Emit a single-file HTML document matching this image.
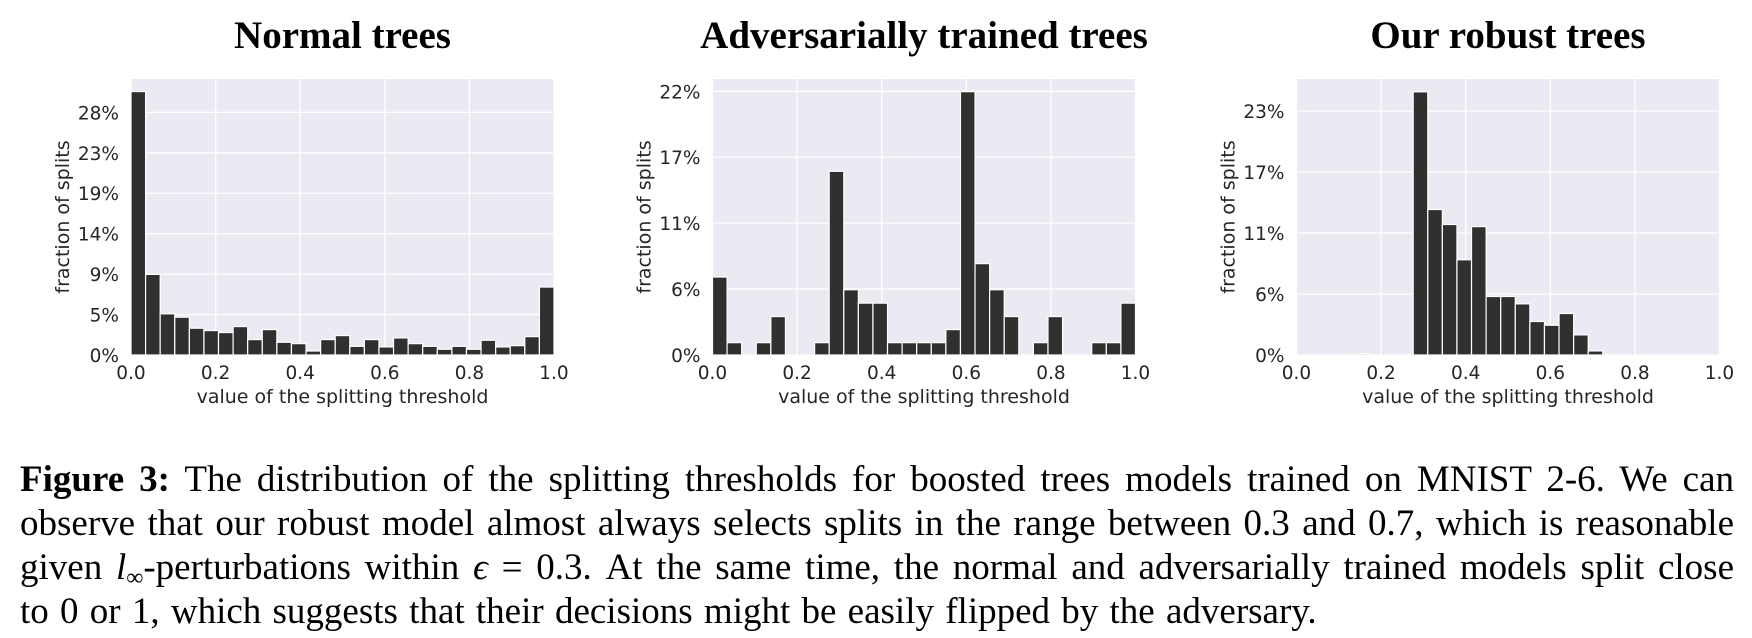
<!DOCTYPE html>
<html><head><meta charset="utf-8">
<style>
html,body{margin:0;padding:0;background:#fff;}
body{width:1752px;height:638px;position:relative;overflow:hidden;}
svg{position:absolute;left:0;top:0;}
#caption{position:absolute;left:20px;top:458px;width:1714px;font-family:"Liberation Serif",serif;font-size:37px;line-height:44px;color:#000;}
#caption div{text-align:justify;text-align-last:justify;white-space:nowrap;height:44px;}
#caption div.last{text-align-last:left;word-spacing:2px;}
#caption sub{font-size:24px;line-height:0;vertical-align:-6px;}
</style></head>
<body>
<svg id="fig" width="1752" height="450"></svg>
<div id="caption">
<div><b>Figure 3:</b> The distribution of the splitting thresholds for boosted trees models trained on MNIST 2-6. We can</div>
<div>observe that our robust model almost always selects splits in the range between 0.3 and 0.7, which is reasonable</div>
<div>given <i>l</i><sub>∞</sub>-perturbations within <i>ϵ</i> = 0.3. At the same time, the normal and adversarially trained models split close</div>
<div class="last">to 0 or 1, which suggests that their decisions might be easily flipped by the adversary.</div>
</div>
<script>
const titles = ["Normal trees","Adversarially trained trees","Our robust trees"];
const normalValues = [30.4,9.3,4.75,4.36,3.09,2.82,2.59,3.28,1.78,2.93,1.47,1.31,0.46,1.78,2.24,1.0,1.78,0.93,1.97,1.31,1.0,0.66,1.0,0.66,1.7,0.93,1.08,2.12,7.84];
const advValues = [6.57,1.04,0,1.04,3.24,0,0,1.04,15.48,5.5,4.37,4.37,1.04,1.04,1.04,1.04,2.14,22.19,7.7,5.5,3.24,0,1.04,3.24,0,0,1.04,1.04,4.37];
const robustValues = [0,0,0,0,0.12,0,0,0,24.6,13.6,12.2,8.9,12.0,5.47,5.47,4.78,3.13,2.78,3.88,1.88,0.38,0,0,0,0,0,0,0,0];
const normalTicks = [0,4.667,9.333,14,18.667,23.333,28];
const normalTickLabels = ["0%","5%","9%","14%","19%","23%","28%"];
const advTicks = [0,5.556,11.111,16.667,22.222];
const advTickLabels = ["0%","6%","11%","17%","22%"];
const robustTicks = [0,5.7,11.4,17.1,22.8];
const robustTickLabels = ["0%","6%","11%","17%","23%"];
const yMaxes = [31.85,23.26,25.8];
const xTicks = [0,0.2,0.4,0.6,0.8,1.0];
const xTickLabels = ["0.0","0.2","0.4","0.6","0.8","1.0"];

const NS="http://www.w3.org/2000/svg";
const svg=document.getElementById('fig');
function mk(tag,attrs,parent){const e=document.createElementNS(NS,tag);for(const k in attrs)e.setAttribute(k,attrs[k]);(parent||svg).appendChild(e);return e;}
const panels=[
 {left:131,vals:normalValues,ticks:normalTicks,labels:normalTickLabels,name:'normal'},
 {left:712.5,vals:advValues,ticks:advTicks,labels:advTickLabels,name:'adversarial'},
 {left:1296.5,vals:robustValues,ticks:robustTicks,labels:robustTickLabels,name:'robust'}
];
const PW=423, PTOP=79, PBOT=355, PH=PBOT-PTOP;
panels.forEach((p,pi)=>{
  const g=mk('g',{});
  
  
  const ymax=yMaxes[pi];
  const xs=v=>p.left+v*PW;
  const ys=v=>PBOT-v/ymax*PH;
  const bg=mk('rect',{x:p.left,y:PTOP,width:PW,height:PH,fill:'#eaeaf2'},g);
  
  
  xTicks.forEach((t,i)=>{
    const l=mk('line',{x1:xs(t),x2:xs(t),y1:PTOP,y2:PBOT,stroke:'#fff','stroke-width':1.3},g);
    
    
    const tx=mk('text',{x:xs(t),y:PBOT+24,'text-anchor':'middle','font-family':'DejaVu Sans, sans-serif','font-size':18.5,fill:'#262626'},g);
    tx.textContent=xTickLabels[i];
    
    
  });
  p.ticks.forEach((t,i)=>{
    const l=mk('line',{x1:p.left,x2:p.left+PW,y1:ys(t),y2:ys(t),stroke:'#fff','stroke-width':1.3},g);
    
    
    const tx=mk('text',{x:p.left-12,y:ys(t)+7,'text-anchor':'end','font-family':'DejaVu Sans, sans-serif','font-size':18.5,fill:'#262626'},g);
    tx.textContent=p.labels[i];
    
    
  });
  const n=p.vals.length, bw=1/n;
  p.vals.forEach((v,i)=>{
    if(v<=0)return;
    const r=mk('rect',{x:xs(i*bw),y:ys(v),width:PW*bw,height:PBOT-ys(v),fill:'#303030',stroke:'#fff','stroke-width':1.2},g);
    
    
  });
  const title=mk('text',{x:p.left+PW/2,y:48,'text-anchor':'middle','font-family':'Liberation Serif, serif','font-weight':'bold','font-size':39,fill:'#000'},g);
  title.textContent=titles[pi];
  
  
  const xl=mk('text',{x:p.left+PW/2,y:403,'text-anchor':'middle','font-family':'DejaVu Sans, sans-serif','font-size':19,fill:'#262626'},g);
  xl.textContent='value of the splitting threshold';
  
  
  const yx=p.left-62, yc=PTOP+PH/2;
  const yl=mk('text',{x:yx,y:yc,'text-anchor':'middle','font-family':'DejaVu Sans, sans-serif','font-size':19,fill:'#262626',transform:`rotate(-90 ${yx} ${yc})`},g);
  yl.textContent='fraction of splits';
  
  
});
</script>
</body></html>
